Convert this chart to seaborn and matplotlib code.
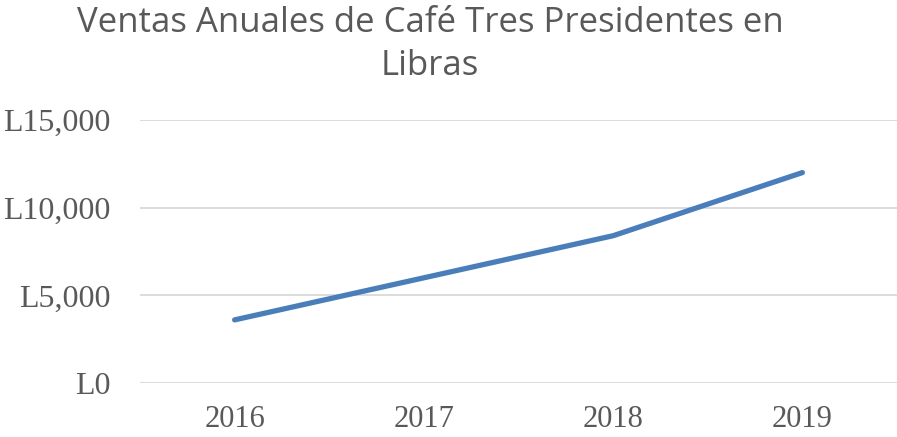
import matplotlib
matplotlib.use("Agg")
import matplotlib.pyplot as plt
import seaborn as sns
import pandas as pd
from matplotlib.ticker import FuncFormatter

# data
years = ["2016", "2017", "2018", "2019"]
ventas = [3600, 6000, 8400, 12000]

df = pd.DataFrame({"anio": years, "ventas": ventas})

sns.set_style("white")

fig = plt.figure(figsize=(8.97, 4.37), dpi=100)
ax = fig.add_axes([140 / 897, 1 - 383 / 437, (897 - 140) / 897, (383 - 120) / 437])

sns.lineplot(data=df, x="anio", y="ventas", ax=ax, color="#4A7EBB",
             linewidth=3.8, solid_capstyle="round", sort=False)

ax.set_xlim(-0.5, 3.5)
ax.set_ylim(0, 15000)
ax.set_yticks([0, 5000, 10000, 15000])
ax.yaxis.set_major_formatter(FuncFormatter(lambda v, p: f"L{int(v):,}"))
ax.grid(axis="y", color="#D9D9D9", linewidth=1.3)
ax.grid(axis="x", visible=False)
for s in ax.spines.values():
    s.set_visible(False)
ax.set_xlabel("")
ax.set_ylabel("")
ax.tick_params(axis="both", length=0, labelsize=22, labelcolor="#595959")
ax.tick_params(axis="y", pad=21, labelsize=23)
ax.tick_params(axis="x", pad=16)
for lab in ax.get_xticklabels() + ax.get_yticklabels():
    lab.set_family("Liberation Serif")

fig.text(430 / 897, 1 - 6 / 437,
         "Ventas Anuales de Café Tres Presidentes en\nLibras",
         ha="center", va="top", fontsize=25, color="#595959",
         family="Open Sans", linespacing=1.35)

fig.savefig("out.png", dpi=100)
